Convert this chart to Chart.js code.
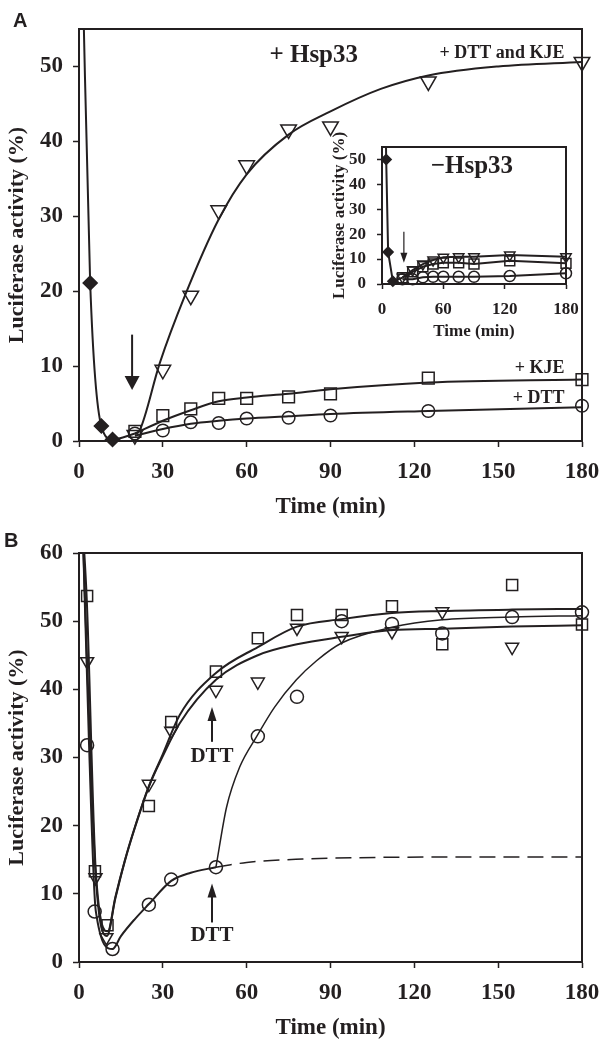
<!DOCTYPE html>
<html>
<head>
<meta charset="utf-8">
<script src="https://cdn.jsdelivr.net/npm/chart.js@4.4.1/dist/chart.umd.min.js"></script>
<style>
  body { margin: 0; background: #fff; }
  #wrap { position: relative; width: 600px; height: 1040px; overflow: hidden; }
  canvas { position: absolute; }
  .tag { position: absolute; font: bold 20px/20px "Liberation Sans", Arial, sans-serif; color: #231f20; }
</style>
</head>
<body>
<div id="wrap">
  <canvas id="chartA" width="600" height="530" style="left:0;top:0"></canvas>
  <canvas id="chartB" width="600" height="526" style="left:0;top:520px"></canvas>
  <canvas id="inset" width="260" height="221" style="left:325px;top:125px"></canvas>
  <div class="tag" style="left:13px;top:10px">A</div>
  <div class="tag" style="left:4px;top:530px">B</div>
</div>
<script>
///// panel A : + Hsp33 (measured points)
const timeA = [20, 30, 40, 50, 60, 75, 90, 125, 180];
const dttKjeA = [0.8, 9.5, 19.4, 30.8, 36.8, 41.6, 42.0, 48.0, 50.6];
const kjeA = [1.3, 3.4, 4.3, 5.7, 5.7, 5.9, 6.3, 8.4, 8.2];
const dttA = [1.0, 1.4, 2.5, 2.4, 3.0, 3.1, 3.4, 4.0, 4.7];
const oxTimeA = [4, 8, 12];
const oxA = [21.1, 2.0, 0.2];

///// panel A : fitted curves
const oxFitTimeA = [1.2, 4, 8, 12, 20];
const oxFitA = [64, 21.1, 2.0, 0.2, 1.0];
const dttKjeFitTimeA = [20, 21.7, 28.9, 37.8, 50, 60, 75, 90, 108, 125, 150, 180];
const dttKjeFitA = [0.9, 1.4, 10.4, 19.3, 29.6, 35.6, 40.9, 44.0, 47.0, 48.8, 50.0, 50.6];
const kjeFitA = [1.0, 2.7, 4.1, 5.3, 5.8, 6.3, 6.9, 7.8, 8.2];
const dttFitA = [0.7, 1.6, 2.3, 2.7, 3.0, 3.3, 3.6, 4.0, 4.5];

///// inset : - Hsp33
const timeIn = [20, 30, 40, 50, 60, 75, 90, 125, 180];
const dttKjeIn = [2.7, 5.6, 8.0, 9.6, 10.7, 10.9, 10.9, 11.6, 10.9];
const kjeIn = [2.5, 4.9, 6.9, 8.0, 8.5, 8.5, 8.0, 9.3, 8.3];
const dttIn = [1.9, 1.9, 2.7, 2.9, 2.9, 2.9, 2.9, 3.2, 4.3];
const oxTimeIn = [4.1, 6, 10.6];
const oxIn = [50, 12.8, 1.1];
const oxLineTimeIn = [3.7, 4.1, 6, 10.6, 20];
const oxLineIn = [62, 50, 12.8, 1.1, 2.5];

///// panel B (measured points)
const sqTimeB = [2.9, 5.7, 10.2, 25, 33, 49, 64, 78, 94, 112, 130, 155, 180];
const sqB = [53.7, 13.3, 5.4, 22.9, 35.2, 42.6, 47.5, 50.9, 50.9, 52.2, 46.6, 55.3, 49.5];
const triTimeB = [2.9, 5.9, 9.8, 25, 33, 49, 64, 78, 94, 112, 130, 155];
const triB = [44.1, 12.4, 3.6, 26.1, 33.9, 39.9, 41.1, 49.0, 47.8, 48.5, 51.4, 46.2];
const circTimeB = [2.9, 5.6, 12, 25, 33, 49, 64, 78, 94, 112, 130, 155, 180];
const circB = [31.8, 7.4, 1.9, 8.4, 12.1, 13.9, 33.1, 38.9, 50.0, 49.6, 48.2, 50.6, 51.3];

///// panel B : fitted curves
const sqFitTimeB = [1.3, 2.8, 6, 10.3, 13, 16.4, 20, 25, 30, 36, 49, 64, 78, 94, 112, 130, 155, 180];
const sqFitB = [64, 53, 13.4, 4.5, 9.5, 14.9, 19.8, 25.8, 30.5, 36.2, 42.4, 46.2, 49.2, 50.3, 51.2, 51.5, 51.7, 51.8];
const triFitTimeB = [1.3, 2.9, 6, 10, 13, 16.4, 20, 25, 30, 36, 49, 64, 78, 94, 112, 130, 155, 180];
const triFitB = [64, 44, 12.5, 3.8, 9.3, 14.8, 19.7, 25.7, 30.2, 35.0, 41.4, 45.0, 46.6, 47.7, 48.7, 48.9, 49.2, 49.4];
const circFitTimeB = [1.3, 3.6, 6, 12, 15, 20, 25, 33, 40, 49];
const circFitB = [64, 31.8, 7.5, 1.9, 3.8, 6.3, 8.5, 11.9, 13.1, 13.9];
const dashTimeB = [49, 60, 80, 100, 130, 180];
const dashB = [13.9, 14.6, 15.1, 15.3, 15.4, 15.4];
const recovTimeB = [49, 52.8, 57.5, 63.6, 70, 77.8, 85, 94, 112, 130, 155, 180];
const recovB = [13.9, 22.7, 28.6, 33.1, 37.4, 41.4, 44.2, 46.8, 49.1, 50.2, 50.6, 50.8];

///// tick labels
const ticksTime = [0, 30, 60, 90, 120, 150, 180];
const ticksTimeIn = [0, 60, 120, 180];

const ink = "#231f20";
const serif = '"Liberation Serif", "Times New Roman", serif';

function pts(xs, ys) {
    return xs.map((t, i) => ({x: t, y: ys[i]}));
}

function marks(xs, ys, style, r, filled) {
    return {
        data: pts(xs, ys),
        showLine: false,
        pointStyle: style,
        pointRadius: r,
        pointHoverRadius: r,
        pointRotation: style == "triangle" ? 180 : 0,
        pointBorderColor: ink,
        pointBackgroundColor: filled ? ink : "rgba(0,0,0,0)",
        pointBorderWidth: 1.5,
        clip: false
    };
}

function curve(xs, ys, w, dash, straight) {
    return {
        data: pts(xs, ys),
        showLine: true,
        pointRadius: 0,
        pointHoverRadius: 0,
        borderColor: ink,
        borderWidth: w,
        borderDash: dash || [],
        tension: straight ? 0 : 0.4,
        cubicInterpolationMode: straight ? "default" : "monotone",
        fill: false
    };
}

///// box around the plot area
const framePlugin = {
    id: "frame",
    beforeDatasetsDraw(chart) {
        const {ctx, chartArea: a} = chart;
        ctx.save();
        ctx.strokeStyle = ink;
        ctx.lineWidth = 2;
        ctx.beginPath();
        ctx.moveTo(a.left, a.top);
        ctx.lineTo(a.right, a.top);
        ctx.lineTo(a.right, a.bottom);
        ctx.stroke();
        ctx.restore();
    }
};

///// texts and arrows placed in data coordinates
function notesPlugin(texts, arrows) {
    return {
        id: "notes",
        afterDatasetsDraw(chart) {
            const {ctx, scales: {x, y}} = chart;
            ctx.save();
            ctx.fillStyle = ink;
            ctx.strokeStyle = ink;
            texts.forEach(n => {
                ctx.font = "bold " + n.size + "px " + serif;
                ctx.textAlign = n.align;
                ctx.textBaseline = "middle";
                ctx.fillText(n.text, x.getPixelForValue(n.x), y.getPixelForValue(n.y));
            });
            arrows.forEach(a => {
                const px = x.getPixelForValue(a.x);
                const y0 = y.getPixelForValue(a.from);
                const y1 = y.getPixelForValue(a.to);
                const dir = Math.sign(y1 - y0);
                ctx.lineWidth = a.line;
                ctx.beginPath();
                ctx.moveTo(px, y0);
                ctx.lineTo(px, y1 - dir * a.head * 0.8);
                ctx.stroke();
                ctx.beginPath();
                ctx.moveTo(px, y1);
                ctx.lineTo(px - a.width / 2, y1 - dir * a.head);
                ctx.lineTo(px + a.width / 2, y1 - dir * a.head);
                ctx.closePath();
                ctx.fill();
            });
            ctx.restore();
        }
    };
}

function axes(o) {
    const grid = {display: true, drawOnChartArea: false, drawTicks: true, tickLength: o.tick, tickColor: ink, tickWidth: 1.5};
    const border = {display: true, color: ink, width: 2};
    return {
        x: {
            type: "linear", min: 0, max: 180,
            afterBuildTicks: s => { s.ticks = o.xTicks.map(v => ({value: v})); },
            ticks: {color: ink, padding: 0, font: {size: o.tickSize, weight: "bold", family: serif, lineHeight: o.xLine}},
            grid: grid, border: border,
            title: {display: true, text: "Time (min)", color: ink, padding: {top: 0, bottom: 4}, font: {size: o.xTitle, weight: "bold", family: serif}},
            afterFit: s => { s.height = o.xHeight; }
        },
        y: {
            type: "linear", min: 0, max: o.yMax,
            ticks: {stepSize: 10, includeBounds: false, color: ink, padding: o.yPad, font: {size: o.tickSize, weight: "bold", family: serif}},
            grid: grid, border: border,
            title: {display: true, text: "Luciferase activity (%)", color: ink, padding: {top: 4, bottom: 0}, font: {size: o.yTitle, weight: "bold", family: serif}},
            afterFit: s => { s.width = o.yWidth; }
        }
    };
}

function baseOptions(o) {
    return {
        responsive: false,
        animation: false,
        events: [],
        layout: {padding: o.pad},
        plugins: {legend: {display: false}, tooltip: {enabled: false}},
        scales: axes(o)
    };
}

///// panel A
new Chart(document.getElementById("chartA"), {
    type: "scatter",
    data: {
        datasets: [
            curve(oxFitTimeA, oxFitA, 2),
            curve(dttKjeFitTimeA, dttKjeFitA, 2),
            curve(timeA, kjeFitA, 2),
            curve(timeA, dttFitA, 2),
            marks(oxTimeA, oxA, "rectRot", 7, true),
            marks(timeA, dttKjeA, "triangle", 9, false),
            marks(timeA, kjeA, "rect", 8.3, false),
            marks(timeA, dttA, "circle", 6.3, false)
        ]
    },
    options: baseOptions({
        pad: {left: 0, right: 18, top: 29, bottom: 5},
        xTicks: ticksTime, yMax: 55, tick: 6, yPad: 10, xLine: 2.2,
        tickSize: 23, xTitle: 23, yTitle: 22, xHeight: 84, yWidth: 79
    }),
    plugins: [framePlugin, notesPlugin([
        {text: "+ Hsp33", x: 84, y: 51.4, size: 25, align: "center"},
        {text: "+ DTT and KJE", x: 173.7, y: 51.8, size: 18, align: "right"},
        {text: "+ KJE", x: 173.7, y: 9.7, size: 18, align: "right"},
        {text: "+ DTT", x: 173.7, y: 5.7, size: 18, align: "right"}
    ], [
        {x: 19, from: 14.2, to: 6.8, head: 14, width: 15, line: 2}
    ])]
});

///// inset (- Hsp33)
new Chart(document.getElementById("inset"), {
    type: "scatter",
    data: {
        datasets: [
            curve(oxLineTimeIn, oxLineIn, 2, null, true),
            curve(timeIn, dttKjeIn, 2, null, true),
            curve(timeIn, kjeIn, 2, null, true),
            curve(timeIn, dttIn, 2, null, true),
            marks(oxTimeIn, oxIn, "rectRot", 5, true),
            marks(timeIn, dttKjeIn, "triangle", 6, false),
            marks(timeIn, kjeIn, "rect", 7, false),
            marks(timeIn, dttIn, "circle", 5.5, false)
        ]
    },
    options: baseOptions({
        pad: {left: 0, right: 19, top: 22, bottom: 0},
        xTicks: ticksTimeIn, yMax: 55, tick: 5, yPad: 11, xLine: 2.45,
        tickSize: 17, xTitle: 17, yTitle: 17, xHeight: 62, yWidth: 57
    }),
    plugins: [framePlugin, notesPlugin([
        {text: "\u2212Hsp33", x: 88, y: 47.2, size: 25, align: "center"}
    ], [
        {x: 21.4, from: 21, to: 8.5, head: 10, width: 7, line: 1.2}
    ])]
});

///// panel B
new Chart(document.getElementById("chartB"), {
    type: "scatter",
    data: {
        datasets: [
            curve(sqFitTimeB, sqFitB, 2),
            curve(triFitTimeB, triFitB, 2),
            curve(circFitTimeB, circFitB, 2),
            curve(dashTimeB, dashB, 1.5, [16, 8]),
            curve(recovTimeB, recovB, 1.5),
            marks(sqTimeB, sqB, "rect", 7.8, false),
            marks(triTimeB, triB, "triangle", 7.5, false),
            marks(circTimeB, circB, "circle", 6.5, false)
        ]
    },
    options: baseOptions({
        pad: {left: 0, right: 18, top: 33, bottom: 0},
        xTicks: ticksTime, yMax: 60, tick: 6, yPad: 10, xLine: 2.2,
        tickSize: 23, xTitle: 23, yTitle: 22, xHeight: 84, yWidth: 79
    }),
    plugins: [framePlugin, notesPlugin([
        {text: "DTT", x: 47.6, y: 30.1, size: 21, align: "center"},
        {text: "DTT", x: 47.6, y: 3.85, size: 21, align: "center"}
    ], [
        {x: 47.6, from: 32.3, to: 37.4, head: 14, width: 9, line: 2},
        {x: 47.6, from: 5.8, to: 11.5, head: 14, width: 9, line: 2}
    ])]
});
</script>
</body>
</html>
